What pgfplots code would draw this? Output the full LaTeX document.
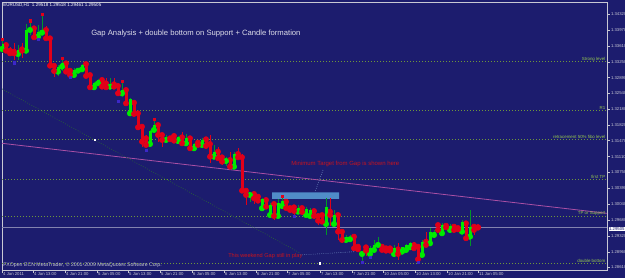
\documentclass[border=0pt]{standalone}
\usepackage{fontspec}
\setmainfont{Liberation Sans}
\usepackage{pgfplots}
\pgfplotsset{compat=1.18}
\usepackage{pgfplotstable}

\definecolor{bg}{RGB}{28,28,110}
\definecolor{frame}{RGB}{200,200,212}
\definecolor{bullbody}{RGB}{0,235,0}
\definecolor{bullwick}{RGB}{0,150,40}
\definecolor{bearbody}{RGB}{225,0,25}
\definecolor{levelline}{RGB}{110,150,60}
\definecolor{leveltext}{RGB}{150,200,80}
\definecolor{trend}{RGB}{170,80,165}
\definecolor{gapbox}{RGB}{80,140,200}
\definecolor{txtred}{RGB}{200,20,30}
\definecolor{pricel}{RGB}{130,130,175}
\definecolor{fracblue}{RGB}{60,40,200}
\definecolor{dimgreen}{RGB}{40,95,60}
\definecolor{arrowblue}{RGB}{110,135,190}
\definecolor{titlegray}{RGB}{220,220,232}

\pgfplotstableread{
k o h l c
0 1.33540 1.33743 1.33449 1.33646
4 1.33427 1.33630 1.33291 1.33517
6 1.33501 1.34104 1.33494 1.33969
7 1.33969 1.34138 1.33856 1.34007
9 1.33818 1.34081 1.33782 1.33917
10 1.33908 1.34296 1.33895 1.33969
14 1.33027 1.33178 1.32930 1.33140
15 1.33140 1.33302 1.33049 1.33216
18 1.32952 1.33104 1.32930 1.33065
19 1.33049 1.33117 1.33027 1.33088
20 1.33081 1.33201 1.33065 1.33178
23 1.32675 1.32802 1.32630 1.32779
24 1.32765 1.32862 1.32750 1.32840
27 1.32689 1.32878 1.32653 1.32743
30 1.32539 1.32772 1.32463 1.32614
32 1.32087 1.32427 1.32072 1.32404
37 1.31395 1.31711 1.31372 1.31695
38 1.31711 1.31925 1.31643 1.31823
41 1.31485 1.31598 1.31440 1.31530
44 1.31462 1.31576 1.31395 1.31546
46 1.31410 1.31621 1.31395 1.31530
48 1.31298 1.31417 1.31275 1.31395
50 1.31372 1.31524 1.31350 1.31485
53 1.31108 1.31372 1.31078 1.31221
56 1.31010 1.31108 1.30898 1.31049
58 1.30882 1.31221 1.30823 1.31169
62 1.30243 1.30295 1.30092 1.30281
65 1.29943 1.30169 1.29920 1.30146
67 1.29791 1.30055 1.29769 1.30017
69 1.29769 1.30146 1.29739 1.30055
70 1.29995 1.30175 1.29965 1.30114
74 1.29866 1.30017 1.29836 1.29949
76 1.29791 1.29979 1.29753 1.29927
77 1.29769 1.29949 1.29723 1.29904
81 1.29588 1.30169 1.29340 1.29979
83 1.29588 1.29904 1.29527 1.29791
86 1.29227 1.29340 1.29189 1.29302
87 1.29243 1.29340 1.29211 1.29302
90 1.28911 1.28963 1.28759 1.28949
92 1.28911 1.29092 1.28866 1.29040
93 1.29001 1.29227 1.28926 1.29114
94 1.29114 1.29288 1.29076 1.29166
98 1.28911 1.29114 1.28888 1.29040
100 1.28963 1.29076 1.28940 1.29062
101 1.29001 1.29137 1.28978 1.29114
102 1.29062 1.29189 1.29017 1.29152
105 1.28888 1.29227 1.28866 1.29189
107 1.29152 1.29491 1.29114 1.29415
108 1.29340 1.29453 1.29302 1.29415
110 1.29378 1.29603 1.29363 1.29565
112 1.29453 1.29581 1.29430 1.29549
115 1.29415 1.29678 1.29378 1.29640
117 1.29302 1.29904 1.29092 1.29527
}\bull

\pgfplotstableread{
k o h l c
1 1.33630 1.33675 1.33449 1.33501
2 1.33501 1.33592 1.33404 1.33442
3 1.33479 1.33675 1.33291 1.33442
5 1.33533 1.33682 1.33336 1.33501
8 1.34007 1.34043 1.33782 1.33804
11 1.33969 1.34059 1.33759 1.33782
12 1.33782 1.33800 1.33144 1.33162
13 1.33162 1.33178 1.32914 1.33042
16 1.33216 1.33253 1.32990 1.33027
17 1.33049 1.33081 1.32930 1.32952
21 1.33201 1.33230 1.32914 1.32930
22 1.32952 1.32975 1.32653 1.32675
25 1.32840 1.32878 1.32675 1.32689
26 1.32765 1.32878 1.32630 1.32675
28 1.32743 1.32884 1.32637 1.32689
29 1.32705 1.32727 1.32501 1.32539
31 1.32614 1.32630 1.32298 1.32313
33 1.32327 1.32350 1.32049 1.32072
34 1.32087 1.32124 1.31711 1.31771
35 1.31785 1.31801 1.31334 1.31447
36 1.31524 1.31598 1.31320 1.31372
39 1.31823 1.31846 1.31447 1.31598
40 1.31598 1.31621 1.31334 1.31485
42 1.31524 1.31542 1.31485 1.31501
43 1.31576 1.31598 1.31424 1.31469
45 1.31546 1.31673 1.31395 1.31410
47 1.31524 1.31546 1.31259 1.31298
49 1.31424 1.31447 1.31350 1.31372
51 1.31501 1.31524 1.31334 1.31350
52 1.31395 1.31598 1.30972 1.31108
54 1.31221 1.31334 1.31033 1.31072
55 1.31094 1.31146 1.30920 1.30995
57 1.31033 1.31221 1.30846 1.30882
59 1.31169 1.31298 1.31072 1.31094
60 1.31094 1.31169 1.30318 1.30340
61 1.30340 1.30372 1.30017 1.30243
63 1.30266 1.30281 1.30040 1.30169
64 1.30205 1.30243 1.30069 1.30114
66 1.30130 1.30146 1.29949 1.29979
68 1.30040 1.30092 1.29678 1.29769
71 1.30092 1.30114 1.29904 1.29949
72 1.29949 1.29979 1.29836 1.29904
73 1.29965 1.30017 1.29791 1.29881
75 1.29949 1.29972 1.29791 1.29859
78 1.29881 1.29927 1.29701 1.29769
79 1.29769 1.29814 1.29565 1.29662
80 1.29791 1.29836 1.29610 1.29640
82 1.29866 1.30169 1.29543 1.29791
84 1.29791 1.29829 1.29227 1.29415
85 1.29415 1.29453 1.29159 1.29227
88 1.29302 1.29318 1.29017 1.29040
89 1.29076 1.29114 1.28985 1.29017
91 1.29062 1.29076 1.28866 1.28985
95 1.29076 1.29114 1.28978 1.29001
96 1.29040 1.29062 1.28963 1.28985
97 1.29040 1.29062 1.28963 1.28985
99 1.29017 1.29152 1.28775 1.28911
103 1.29114 1.29189 1.29017 1.29040
104 1.29076 1.29114 1.28737 1.28791
106 1.29189 1.29415 1.29076 1.29114
109 1.29565 1.29603 1.29415 1.29453
111 1.29549 1.29581 1.29475 1.29513
113 1.29527 1.29549 1.29430 1.29453
114 1.29497 1.29527 1.29446 1.29468
116 1.29603 1.29617 1.29227 1.29266
118 1.29527 1.29565 1.29340 1.29453
119 1.29518 1.29518 1.29461 1.29505
}\bear

\newcommand\tickfont{\fontsize{3.2}{3.8}\selectfont}
\tikzset{lvl/.style={levelline, line width=0.5pt, dash pattern=on 0.75pt off 1.5pt}}

\begin{document}
\begin{tikzpicture}
\fill[bg] (0,0) rectangle (468.75pt,208.5pt);
\begin{axis}[
  at={(1.5pt,6pt)}, anchor=south west,
  scale only axis, width=453.75pt, height=201pt,
  xmin=0, xmax=151.25, ymin=1.28549, ymax=1.34601,
  clip mode=individual,
  axis line style={frame, line width=0.5pt},
  scaled ticks=false,
  tick align=outside, major tick length=2.2pt,
  tick style={frame, line width=0.4pt},
  xtick pos=left, ytick pos=right, yticklabel pos=right,
  xtick={0,7.75,15.75,23.75,31.5,39.5,47.5,55.5,63.5,71.25,79.5,87.5,95.25,103.25,111.25,119},
  xticklabels={4 Jan 2011,4 Jan 13:00,4 Jan 21:00,5 Jan 05:00,5 Jan 13:00,5 Jan 21:00,6 Jan 05:00,6 Jan 13:00,6 Jan 21:00,7 Jan 05:00,7 Jan 13:00,7 Jan 21:00,10 Jan 05:00,10 Jan 13:00,10 Jan 21:00,11 Jan 05:00},
  xticklabel style={anchor=north west, inner sep=0.3pt, xshift=0.4pt, yshift=0.6pt, font=\tickfont, text=frame},
  ytick={1.28610,1.28960,1.29320,1.29680,1.30040,1.30390,1.30750,1.31110,1.31470,1.31820,1.32180,1.32540,1.32890,1.33250,1.33610,1.33970,1.34320},
  yticklabels={1.28610,1.28960,1.29320,1.29680,1.30040,1.30390,1.30750,1.31110,1.31470,1.31820,1.32180,1.32540,1.32890,1.33250,1.33610,1.33970,1.34320},
  yticklabel style={anchor=west, inner sep=0.3pt, xshift=0.3pt, font=\tickfont, text=frame},
]
% gap box
\addplot[fill=gapbox, draw=none] coordinates {(67.5,1.30153) (84.25,1.30153) (84.25,1.30304) (67.5,1.30304) (67.5,1.30153)};
% levels
\addplot[lvl] coordinates {(0,1.33250) (151.25,1.33250)};
\addplot[lvl] coordinates {(0,1.32165) (151.25,1.32165)};
\addplot[lvl] coordinates {(0,1.31508) (151.25,1.31508)};
\addplot[lvl] coordinates {(0,1.30605) (151.25,1.30605)};
\addplot[lvl] coordinates {(0,1.29762) (151.25,1.29762)};
\addplot[lvl] coordinates {(0,1.28700) (151.25,1.28700)};
% current price
\addplot[pricel, line width=0.5pt] coordinates {(0,1.29505) (151.25,1.29505)};
% trend lines
\addplot[trend, line width=0.6pt] coordinates {(0,1.31410) (151.25,1.29829)};
\addplot[dimgreen, line width=0.5pt, dash pattern=on 0.6pt off 1.2pt] coordinates {(0,1.32637) (74.5,1.28933)};
\addplot[arrowblue, line width=0.4pt, dash pattern=on 0.6pt off 1pt] coordinates {(74.5,1.28888) (88.25,1.28963)};
\addplot[arrowblue, line width=0.4pt, dash pattern=on 0.6pt off 1pt] coordinates {(80.25,1.30807) (78.25,1.30311)};
% candles: wicks
\addplot[bullwick, only marks, mark=none, error bars/.cd, y dir=both, y explicit, error mark=none,
  error bar style={line width=0.5pt, draw=bullwick}]
  table[x=k, y=o, y error plus expr=\thisrow{h}-\thisrow{o}, y error minus expr=\thisrow{o}-\thisrow{l}] {\bull};
\addplot[bearbody, only marks, mark=none, error bars/.cd, y dir=both, y explicit, error mark=none,
  error bar style={line width=0.5pt, draw=bearbody}]
  table[x=k, y=o, y error plus expr=\thisrow{h}-\thisrow{o}, y error minus expr=\thisrow{o}-\thisrow{l}] {\bear};
% candles: bodies
\addplot[bullbody, only marks, mark=none, error bars/.cd, y dir=plus, y explicit, error mark=none,
  error bar style={line width=2.25pt, draw=bullbody}]
  table[x=k, y=o, y error plus expr=\thisrow{c}-\thisrow{o}] {\bull};
\addplot[bearbody, only marks, mark=none, error bars/.cd, y dir=plus, y explicit, error mark=none,
  error bar style={line width=2.25pt, draw=bearbody}]
  table[x=k, y=c, y error plus expr=\thisrow{o}-\thisrow{c}] {\bear};
% fractals
\addplot[only marks, mark=square*, mark size=0.8pt, color=bearbody] coordinates {
(0,1.33766) (7,1.34178) (10,1.34330) (15,1.33330) (30,1.32802) (38,1.31945) (70,1.30221)};
\addplot[only marks, mark=square*, mark size=0.8pt, color=fracblue] coordinates {
(3,1.33230) (9,1.33760) (17,1.32904) (29,1.32350) (36,1.31252) (73,1.29769) (90,1.28714) (92,1.28843) (104,1.28714)};
\addplot[only marks, mark=square*, mark size=0.5pt, color=white] coordinates {(23.25,1.31485) (79.5,1.28700)};
\end{axis}

\begin{scope}[x=0.75pt, y=-0.75pt, shift={(0pt,208.5pt)}]
\node[anchor=west, inner sep=0pt, text=white, font=\fontsize{3.4}{4}\selectfont] at (3,5) {EURUSD,H1\ \ 1.29518 1.29518 1.29461 1.29505};
\node[anchor=west, inner sep=0pt, text=titlegray, font=\fontsize{5.75}{6.8}\selectfont] at (91,34) {Gap Analysis + double bottom on Support + Candle formation};
\node[anchor=west, inner sep=0pt, text=txtred, font=\fontsize{4.5}{5.4}\selectfont] at (291,164) {Minimum Target from Gap is shown here};
\node[anchor=west, inner sep=0pt, text=txtred, font=\fontsize{4.2}{5}\selectfont] at (228,256.5) {This weekend Gap still in play};
\node[anchor=west, inner sep=0pt, text=frame, font=\fontsize{3.9}{4.6}\selectfont] at (3,265.5) {FXOpen ECN MetaTrader, © 2001-2009 MetaQuotes Software Corp.};
\foreach \yy/\tt in {62/Strong level, 110/R1, 139/retracement 50\% fibo level, 179/first TP, 216.3/TP or Support, 263.3/double bottom}
  \node[anchor=south east, inner sep=0.4pt, text=leveltext, font=\fontsize{3.3}{4}\selectfont] at (606,\yy) {\tt};
\node[anchor=west, fill=white, text=bg, inner sep=0.4pt, font=\tickfont] at (608.3,229) {1.29505};
\end{scope}
\pgfresetboundingbox
\path[use as bounding box] (0,0) rectangle (468.75pt,208.5pt);
\end{tikzpicture}
\end{document}
